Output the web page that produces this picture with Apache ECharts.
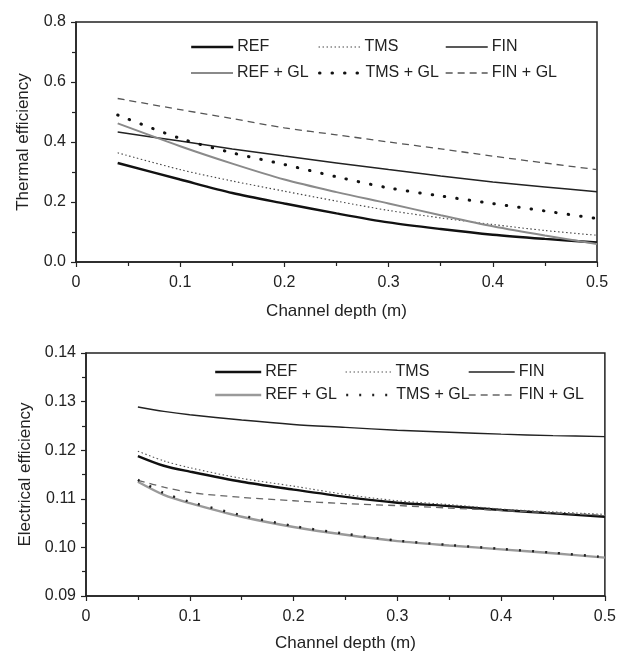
<!DOCTYPE html>
<html>
<head>
  <meta charset="utf-8" />
  <title>Thermal and electrical efficiency</title>
  <script src="https://cdn.jsdelivr.net/npm/echarts@6/dist/echarts.min.js"></script>
  <style>
    html, body { margin: 0; padding: 0; background: #fff; }
    #main { width: 619px; height: 653px; }
  </style>
</head>
<body>
<div id="main"></div>
<script type="text/javascript">
  // series labels (same six cases in both panels)
  var caseNames = ['REF', 'TMS', 'FIN', 'REF + GL', 'TMS + GL', 'FIN + GL'];

  // top panel: thermal efficiency vs channel depth
  var depthT = [0.04, 0.1, 0.15, 0.2, 0.25, 0.3, 0.35, 0.4, 0.45, 0.5];
  var thermREF   = [0.330, 0.275, 0.230, 0.195, 0.162, 0.132, 0.110, 0.091, 0.077, 0.065];
  var thermTMS   = [0.364, 0.308, 0.270, 0.236, 0.203, 0.172, 0.147, 0.125, 0.105, 0.089];
  var thermFIN   = [0.433, 0.403, 0.377, 0.353, 0.330, 0.308, 0.287, 0.267, 0.250, 0.234];
  var thermREFGL = [0.462, 0.386, 0.328, 0.275, 0.233, 0.195, 0.156, 0.119, 0.088, 0.060];
  var thermTMSGL = [0.490, 0.412, 0.364, 0.325, 0.284, 0.247, 0.220, 0.195, 0.170, 0.145];
  var thermFINGL = [0.545, 0.508, 0.478, 0.447, 0.424, 0.400, 0.377, 0.353, 0.330, 0.308];

  // bottom panel: electrical efficiency vs channel depth
  var depthE = [0.05, 0.075, 0.1, 0.15, 0.2, 0.25, 0.3, 0.35, 0.4, 0.45, 0.5];
  var elecREF   = [0.1188, 0.1168, 0.1156, 0.1135, 0.1119, 0.1104, 0.1092, 0.1085, 0.1077, 0.1070, 0.1063];
  var elecTMS   = [0.1198, 0.1178, 0.1164, 0.1142, 0.1126, 0.1109, 0.1096, 0.1088, 0.1079, 0.1073, 0.1068];
  var elecFIN   = [0.1289, 0.1280, 0.1273, 0.1262, 0.1253, 0.1247, 0.1241, 0.1237, 0.1233, 0.1230, 0.1228];
  var elecREFGL = [0.1135, 0.1108, 0.1091, 0.1063, 0.1042, 0.1026, 0.1013, 0.1004, 0.0996, 0.0988, 0.0979];
  var elecTMSGL = [0.1139, 0.1112, 0.1094, 0.1066, 0.1044, 0.1028, 0.1014, 0.1005, 0.0997, 0.0989, 0.0980];
  var elecFINGL = [0.1138, 0.1124, 0.1113, 0.1103, 0.1096, 0.1090, 0.1086, 0.1081, 0.1076, 0.1071, 0.1066];

  // tick values
  var xTicks = [0, 0.1, 0.2, 0.3, 0.4, 0.5];
  var thermTicks = [0, 0.2, 0.4, 0.6, 0.8];
  var elecTicks = [0.09, 0.10, 0.11, 0.12, 0.13, 0.14];

  var FONT = '"Liberation Sans", Arial, sans-serif';

  function pairs(xs, ys) {
    return xs.map(function (x, i) { return [x, ys[i]]; });
  }

  // line looks for each case, top panel then bottom panel
  var stylesT = [
    { color: '#111', width: 2.4, type: 'solid' },
    { color: '#444', width: 1.1, type: [1.5, 2.5] },
    { color: '#222', width: 1.5, type: 'solid' },
    { color: '#8a8a8a', width: 2, type: 'solid' },
    { color: '#111', width: 3, type: [0.5, 12], cap: 'round' },
    { color: '#555', width: 1.3, type: [7, 5] }
  ];
  var stylesE = [
    { color: '#111', width: 2.4, type: 'solid' },
    { color: '#555', width: 1.1, type: [1.5, 2.5] },
    { color: '#222', width: 1.4, type: 'solid' },
    { color: '#9a9a9a', width: 2.4, type: 'solid' },
    { color: '#222', width: 2.4, type: [2, 11] },
    { color: '#666', width: 1.3, type: [7, 5] }
  ];
  var thermData = [thermREF, thermTMS, thermFIN, thermREFGL, thermTMSGL, thermFINGL];
  var elecData = [elecREF, elecTMS, elecFIN, elecREFGL, elecTMSGL, elecFINGL];

  var series = [];
  caseNames.forEach(function (n, i) {
    series.push({
      name: n + '#t', type: 'line', xAxisIndex: 0, yAxisIndex: 0,
      symbol: 'none', smooth: 0.3, silent: true,
      lineStyle: stylesT[i], itemStyle: { color: stylesT[i].color },
      data: pairs(depthT, thermData[i])
    });
  });
  // draw the gray line under the dotted one in the bottom panel
  [0, 1, 2, 3, 5, 4].forEach(function (i) {
    series.push({
      name: caseNames[i] + '#e', type: 'line', xAxisIndex: 1, yAxisIndex: 1,
      symbol: 'none', smooth: 0.3, silent: true,
      lineStyle: stylesE[i], itemStyle: { color: stylesE[i].color },
      data: pairs(depthE, elecData[i])
    });
  });

  // one legend per entry so the 2 x 3 layout sits where it does in the figure
  var legends = [];
  var colT = [190, 318, 445], rowT = [39, 65];
  var colE = [214, 345, 468], rowE = [364, 387];
  function legendFor(name, tag, left, top, width) {
    return {
      data: [name + tag], left: left, top: top, padding: 0,
      itemWidth: width, itemHeight: 16, itemGap: 0, selectedMode: false,
      lineStyle: { width: 'inherit' },
      itemStyle: { color: 'transparent', borderWidth: 0, opacity: 0 },
      textStyle: { fontFamily: FONT, fontSize: 16, color: '#222', padding: [0, 0, 0, -1] },
      formatter: function (s) { return s.replace(tag, ''); }
    };
  }
  caseNames.forEach(function (n, i) {
    var c = i % 3, r = Math.floor(i / 3);
    legends.push(legendFor(n, '#t', colT[c], rowT[r], 42));
    legends.push(legendFor(n, '#e', colE[c], rowE[r], 46));
  });

  function xAxisFor(grid) {
    return {
      type: 'value', gridIndex: grid, min: xTicks[0], max: xTicks[xTicks.length - 1],
      interval: 0.1,
      name: 'Channel depth (m)', nameLocation: 'middle', nameGap: grid === 0 ? 41 : 39,
      nameTextStyle: { fontFamily: FONT, fontSize: 17, color: '#222' },
      axisLine: { onZero: false, lineStyle: { color: '#222', width: 1.5 } },
      axisTick: { inside: false, length: 5, lineStyle: { color: '#222', width: 1.2 } },
      minorTick: { show: true, splitNumber: 2, length: 4, lineStyle: { color: '#222', width: 1.2 } },
      splitLine: { show: false },
      axisLabel: {
        fontFamily: FONT, fontSize: 16, color: '#222', margin: 13,
        formatter: function (v) { return v === 0 ? '0' : v.toFixed(1); }
      }
    };
  }

  var option = {
    backgroundColor: '#fff',
    animation: false,
    legend: legends,
    grid: [
      { left: 76, right: 22, top: 22, height: 240, show: true, borderColor: '#222', borderWidth: 1.5 },
      { left: 86, right: 13, top: 353, height: 244, show: true, borderColor: '#222', borderWidth: 1.5 }
    ],
    xAxis: [xAxisFor(0), xAxisFor(1)],
    yAxis: [
      {
        type: 'value', gridIndex: 0, min: thermTicks[0], max: thermTicks[thermTicks.length - 1],
        interval: 0.2,
        name: 'Thermal efficiency', nameLocation: 'middle', nameGap: 44,
        nameTextStyle: { fontFamily: FONT, fontSize: 17, color: '#222' },
        axisLine: { show: true, lineStyle: { color: '#222', width: 1.5 } },
        axisTick: { show: true, length: 5, lineStyle: { color: '#222', width: 1.2 } },
        minorTick: { show: true, splitNumber: 2, length: 4, lineStyle: { color: '#222', width: 1.2 } },
        splitLine: { show: false },
        axisLabel: {
          fontFamily: FONT, fontSize: 16, color: '#222', margin: 10,
          formatter: function (v) { return v.toFixed(1); }
        }
      },
      {
        type: 'value', gridIndex: 1, min: elecTicks[0], max: elecTicks[elecTicks.length - 1],
        interval: 0.01,
        name: 'Electrical efficiency', nameLocation: 'middle', nameGap: 50,
        nameTextStyle: { fontFamily: FONT, fontSize: 17, color: '#222' },
        axisLine: { show: true, lineStyle: { color: '#222', width: 1.5 } },
        axisTick: { show: true, length: 5, lineStyle: { color: '#222', width: 1.2 } },
        minorTick: { show: true, splitNumber: 2, length: 4, lineStyle: { color: '#222', width: 1.2 } },
        splitLine: { show: false },
        axisLabel: {
          fontFamily: FONT, fontSize: 16, color: '#222', margin: 10,
          formatter: function (v) { return v.toFixed(2); }
        }
      }
    ],
    series: series
  };

  var myChart = echarts.init(document.getElementById('main'), null, { renderer: 'canvas' });
  option && myChart.setOption(option);
</script>
</body>
</html>
